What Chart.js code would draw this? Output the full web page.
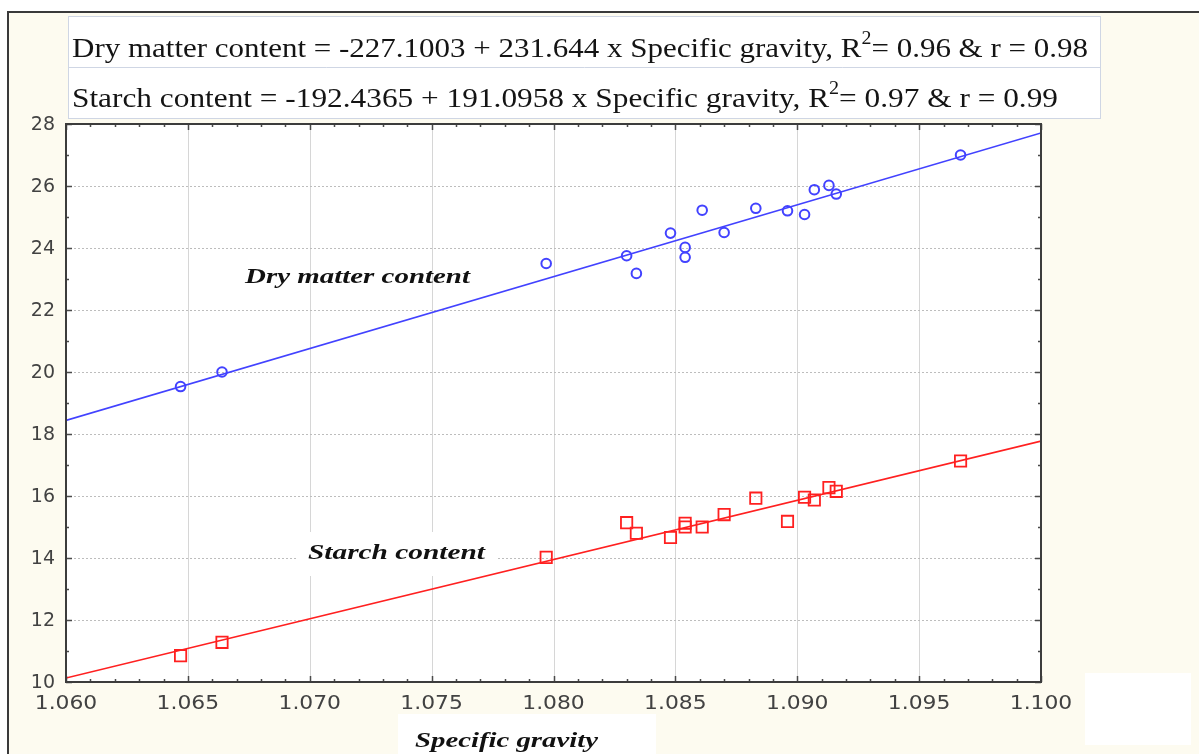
<!DOCTYPE html>
<html>
<head>
<meta charset="utf-8">
<script src="https://cdn.jsdelivr.net/npm/chart.js@4"></script>
<style>
  html, body { margin: 0; padding: 0; background: #fff; }
  #wrap { width: 1199px; height: 754px; }
</style>
</head>
<body>
<div id="wrap"><canvas id="sgChart" width="1199" height="754"></canvas></div>
<script>
// Sample values
const specificGravity = [1.0647, 1.0664, 1.0797, 1.0830, 1.0834, 1.0848, 1.0854, 1.0854, 1.0861,
                         1.0870, 1.0883, 1.0896, 1.0903, 1.0907, 1.0913, 1.0916, 1.0967];
const dryMatter = [19.53, 20.0, 23.5, 23.75, 23.18, 24.48, 24.02, 23.7, 25.22,
                   24.5, 25.28, 25.2, 25.08, 25.88, 26.02, 25.74, 27.0];
const starchContent = [10.85, 11.28, 14.02, 15.14, 14.8, 14.66, 15.12, 15.0, 15.0,
                       15.4, 15.93, 15.18, 15.96, 15.87, 16.27, 16.15, 17.13];

// Fitted lines, ends at x = 1.060 and x = 1.100
const fitX = [1.060, 1.100];
const dryFit = [18.44, 27.71];
const starchFit = [10.13, 17.77];

const equations = [
  ['Dry matter content = -227.1003 + 231.644 x Specific gravity, R', '2', '= 0.96 & r = 0.98'],
  ['Starch content = -192.4365 + 191.0958 x Specific gravity, R', '2', '= 0.97 & r = 0.99']
];

const toPoints = (xs, ys) => xs.map((x, i) => ({ x: x, y: ys[i] }));

const BLUE = '#4242ff';
const RED = '#ff2020';

// text squeezed/stretched to a given width
function wideText(c, txt, cx, cy, width, align) {
  const w = c.measureText(txt).width;
  const k = width / w;
  c.save();
  c.translate(cx, cy);
  c.scale(k, 1);
  c.textAlign = align || 'center';
  c.fillText(txt, 0, 0);
  c.restore();
}

// background, frame, grid, labels, box
const decor = {
  id: 'decor',
  beforeDraw(chart) {
    const c = chart.ctx, a = chart.chartArea;
    c.save();
    c.fillStyle = '#ffffff';
    c.fillRect(0, 0, chart.width, chart.height);
    c.fillStyle = '#fdfbf0';
    c.fillRect(8, 12, chart.width - 8, chart.height - 12);
    c.strokeStyle = '#3a3a3a';
    c.lineWidth = 2;
    c.beginPath();
    c.moveTo(8, chart.height);
    c.lineTo(8, 12);
    c.lineTo(chart.width, 12);
    c.stroke();
    c.fillStyle = '#ffffff';
    c.fillRect(a.left, a.top, a.right - a.left, a.bottom - a.top);
    c.restore();
  },
  beforeDatasetsDraw(chart) {
    const c = chart.ctx, a = chart.chartArea;
    const xs = chart.scales.x, ys = chart.scales.y;
    c.save();
    // vertical grid, solid
    c.strokeStyle = '#d6d6d6';
    c.lineWidth = 1;
    xs.ticks.forEach(t => {
      const px = Math.round(xs.getPixelForValue(t.value)) + 0.5;
      if (px <= a.left + 2 || px >= a.right - 2) return;
      c.beginPath(); c.moveTo(px, a.top); c.lineTo(px, a.bottom); c.stroke();
    });
    // horizontal grid, dotted
    c.strokeStyle = '#bdbdbd';
    c.setLineDash([2, 2]);
    ys.ticks.forEach(t => {
      const py = Math.round(ys.getPixelForValue(t.value)) + 0.5;
      if (py <= a.top + 2 || py >= a.bottom - 2) return;
      c.beginPath(); c.moveTo(a.left, py); c.lineTo(a.right, py); c.stroke();
    });
    c.setLineDash([]);

    // tick labels
    c.fillStyle = '#424242';
    c.font = '19px "DejaVu Sans"';
    c.textBaseline = 'middle';
    xs.ticks.forEach(t => {
      const txt = Number(t.value).toFixed(3);
      const w = c.measureText(txt).width * 1.15;
      wideText(c, txt, xs.getPixelForValue(t.value), 704, w, 'center');
    });
    c.textAlign = 'right';
    ys.ticks.forEach(t => {
      c.fillText(String(t.value), 55, ys.getPixelForValue(t.value) + 1);
    });

    // series labels inside plot
    c.font = 'italic bold 22px "Liberation Serif"';
    c.textBaseline = 'middle';
    c.fillStyle = '#ffffff';
    c.fillRect(296, 532, 202, 44);
    c.fillStyle = '#111111';
    wideText(c, 'Dry matter content', 357.5, 277, 225);
    wideText(c, 'Starch content', 396.5, 553, 177);

    // axis title with its white patch
    c.fillStyle = '#ffffff';
    c.fillRect(398, 714, 258, 40);
    c.fillStyle = '#111111';
    wideText(c, 'Specific gravity', 506.5, 741, 183);
    // stray white patch lower right
    c.fillStyle = '#ffffff';
    c.fillRect(1085, 673, 106, 72);

    // equation box
    c.fillStyle = '#ffffff';
    c.fillRect(68, 16, 1033, 103);
    c.strokeStyle = '#cfd6e4';
    c.lineWidth = 1;
    c.strokeRect(68.5, 16.5, 1032, 102);
    c.beginPath(); c.moveTo(68, 67.5); c.lineTo(1101, 67.5); c.stroke();
    c.textBaseline = 'alphabetic';
    c.textAlign = 'left';
    c.fillStyle = '#141414';
    const rowWidth = [1016, 986];
    equations.forEach((parts, i) => {
      const base = 57 + i * 50;
      c.font = '28px "Liberation Serif"';
      const w0 = c.measureText(parts[0]).width;
      const w2 = c.measureText(parts[2]).width;
      c.font = '18px "Liberation Serif"';
      const w1 = c.measureText(parts[1]).width;
      const k = rowWidth[i] / (w0 + w1 + w2);
      c.save();
      c.translate(72, base);
      c.scale(k, 1);
      c.font = '28px "Liberation Serif"';
      c.fillText(parts[0], 0, 0);
      c.font = '18px "Liberation Serif"';
      c.fillText(parts[1], w0, -13);
      c.font = '28px "Liberation Serif"';
      c.fillText(parts[2], w0 + w1, 0);
      c.restore();
    });
    c.restore();
  },
  afterDatasetsDraw(chart) {
    const c = chart.ctx, a = chart.chartArea;
    const xs = chart.scales.x, ys = chart.scales.y;
    c.save();
    c.strokeStyle = '#4a4a4a';
    c.lineWidth = 1.5;
    // minor + major ticks, all four sides, pointing inward
    for (let k = 0; k <= 40; k++) {
      const v = 1.060 + k * 0.001;
      const px = Math.round(xs.getPixelForValue(v)) + 0.5;
      const len = (k % 5 === 0) ? 6 : 3;
      c.beginPath();
      c.moveTo(px, a.bottom); c.lineTo(px, a.bottom - len);
      c.moveTo(px, a.top); c.lineTo(px, a.top + len);
      c.stroke();
    }
    for (let v = 10; v <= 28; v++) {
      const py = Math.round(ys.getPixelForValue(v)) + 0.5;
      const len = (v % 2 === 0) ? 6 : 3;
      c.beginPath();
      c.moveTo(a.left, py); c.lineTo(a.left + len, py);
      c.moveTo(a.right, py); c.lineTo(a.right - len, py);
      c.stroke();
    }
    c.strokeStyle = '#3c3c3c';
    c.lineWidth = 2;
    c.strokeRect(a.left, a.top, a.right - a.left, a.bottom - a.top);
    c.restore();
  }
};

const ctx = document.getElementById('sgChart').getContext('2d');

const sgChart = new Chart(ctx, {
  type: 'scatter',
  data: {
    datasets: [
      {
        label: 'Dry matter fit',
        data: toPoints(fitX, dryFit),
        showLine: true,
        borderColor: BLUE,
        borderWidth: 1.6,
        pointRadius: 0
      },
      {
        label: 'Starch fit',
        data: toPoints(fitX, starchFit),
        showLine: true,
        borderColor: RED,
        borderWidth: 1.6,
        pointRadius: 0
      },
      {
        label: 'Dry matter content',
        data: toPoints(specificGravity, dryMatter),
        pointStyle: 'circle',
        pointRadius: 4.8,
        borderColor: BLUE,
        backgroundColor: 'rgba(0,0,0,0)',
        borderWidth: 2
      },
      {
        label: 'Starch content',
        data: toPoints(specificGravity, starchContent),
        pointStyle: 'rect',
        pointRadius: 8,
        borderColor: RED,
        backgroundColor: 'rgba(0,0,0,0)',
        borderWidth: 1.8
      }
    ]
  },
  options: {
    responsive: false,
    animation: false,
    events: [],
    layout: { padding: { left: 0, right: 158, top: 124, bottom: 0 } },
    plugins: { legend: { display: false }, tooltip: { enabled: false } },
    scales: {
      x: {
        type: 'linear',
        min: 1.060,
        max: 1.100,
        grid: { display: false, drawTicks: false },
        border: { display: false },
        ticks: {
          stepSize: 0.005,
          color: 'rgba(0,0,0,0)',
          font: { family: '"DejaVu Sans"', size: 19 },
          callback: v => Number(v).toFixed(3)
        },
        afterFit: s => { s.height = 72; }
      },
      y: {
        type: 'linear',
        min: 10,
        max: 28,
        grid: { display: false, drawTicks: false },
        border: { display: false },
        ticks: {
          stepSize: 2,
          color: 'rgba(0,0,0,0)',
          font: { family: '"DejaVu Sans"', size: 19 }
        },
        afterFit: s => { s.width = 66; }
      }
    }
  },
  plugins: [decor]
});
</script>
</body>
</html>
